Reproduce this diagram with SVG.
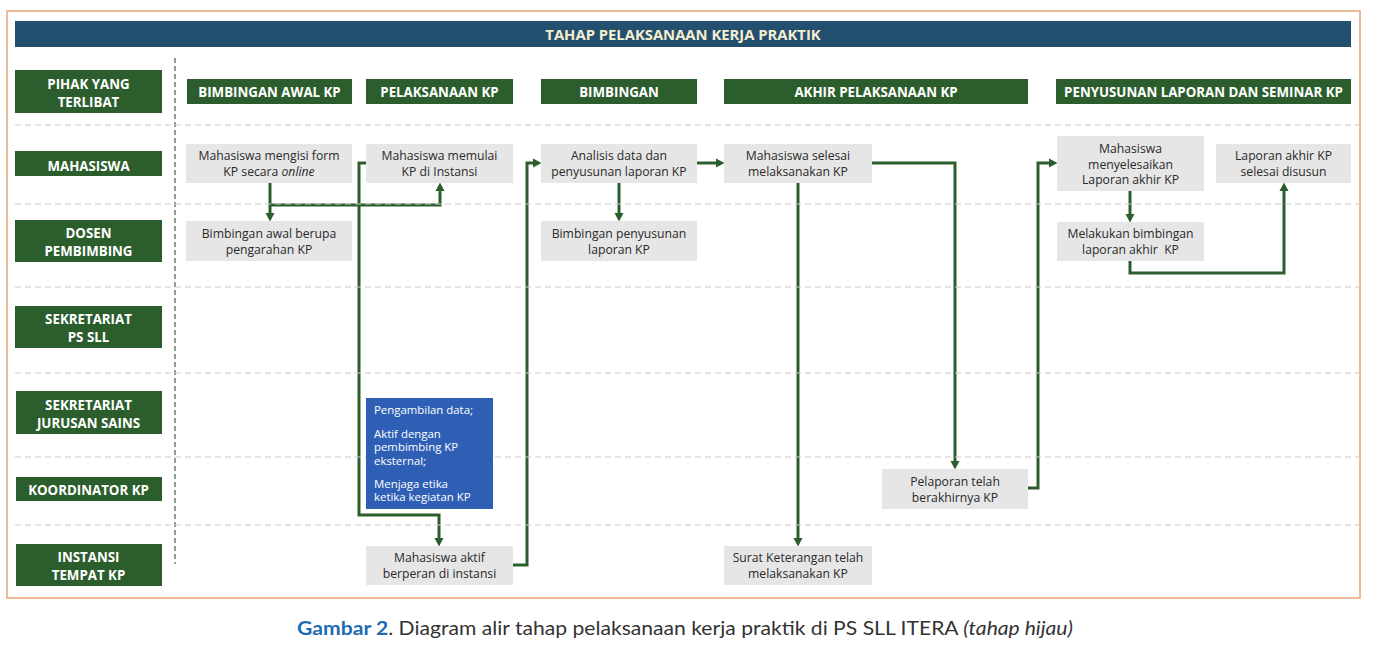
<svg xmlns="http://www.w3.org/2000/svg" width="1374" height="646" viewBox="0 0 1374 646">
<style>
.lbl{fill:#2c5e2d}
.lt{font-family:"Open Sans","DejaVu Sans",sans-serif;font-weight:700;font-size:13.3px;fill:#ffffff;text-anchor:middle}
.box{fill:#e6e6e6}
.bt{font-family:"Open Sans","DejaVu Sans",sans-serif;font-size:12.2px;fill:#2a2a2a;text-anchor:middle}
.grid{stroke:#c9c9c9;stroke-width:1;stroke-dasharray:6 4;fill:none}
.con{stroke:#2c5e2d;stroke-width:3;fill:none;marker-end:url(#ah)}
</style>
<defs>
<marker id="ah" markerUnits="userSpaceOnUse" markerWidth="9" markerHeight="10" refX="3" refY="5" orient="auto">
<path d="M0,0.5 L8.5,5 L0,9.5 z" fill="#2c5e2d"/>
</marker>
</defs>
<rect width="1374" height="646" fill="#ffffff"/>
<rect x="7" y="11" width="1353" height="587" fill="none" stroke="#e9a577" stroke-width="1.5"/>
<g id="title">
<rect x="15" y="21" width="1336" height="26" fill="#23506f"/>
<text x="683" y="40" style="font-family:'Open Sans','DejaVu Sans',sans-serif;font-weight:700;font-size:14.8px;fill:#f6efcf;text-anchor:middle">TAHAP PELAKSANAAN KERJA PRAKTIK</text>
</g>
<line x1="175" y1="58" x2="175" y2="564" stroke="#4d5e4d" stroke-width="1.2" stroke-dasharray="5 3"/>
<g id="lanes">
<g id="lane-pihak"><rect class="lbl" x="15" y="70" width="147" height="43"/><text class="lt" x="88.5" y="88.5">PIHAK YANG</text><text class="lt" x="88.5" y="106.5">TERLIBAT</text></g>
<g id="lane-mahasiswa"><rect class="lbl" x="15" y="151" width="147" height="25"/><text class="lt" x="88.5" y="170.5">MAHASISWA</text></g>
<g id="lane-dosen"><rect class="lbl" x="15" y="220" width="147" height="42"/><text class="lt" x="88.5" y="237.5">DOSEN</text><text class="lt" x="88.5" y="255.5">PEMBIMBING</text></g>
<g id="lane-pssll"><rect class="lbl" x="15" y="306" width="147" height="42"/><text class="lt" x="88.5" y="323.5">SEKRETARIAT</text><text class="lt" x="88.5" y="341.5">PS SLL</text></g>
<g id="lane-jurusan"><rect class="lbl" x="16" y="391" width="146" height="43"/><text class="lt" x="88.5" y="409.5">SEKRETARIAT</text><text class="lt" x="88.5" y="427.5">JURUSAN SAINS</text></g>
<g id="lane-koordinator"><rect class="lbl" x="16" y="477" width="146" height="24"/><text class="lt" x="88.5" y="494.5">KOORDINATOR KP</text></g>
<g id="lane-instansi"><rect class="lbl" x="16" y="544" width="146" height="42"/><text class="lt" x="88.5" y="561.5">INSTANSI</text><text class="lt" x="88.5" y="579.5">TEMPAT KP</text></g>
</g>
<g id="phases">
<g id="ph1"><rect class="lbl" x="187" y="79" width="165" height="25"/><text class="lt" x="269.5" y="96.5">BIMBINGAN AWAL KP</text></g>
<g id="ph2"><rect class="lbl" x="366" y="79" width="147" height="25"/><text class="lt" x="439.5" y="96.5">PELAKSANAAN KP</text></g>
<g id="ph3"><rect class="lbl" x="541" y="79" width="156" height="25"/><text class="lt" x="619" y="96.5">BIMBINGAN</text></g>
<g id="ph4"><rect class="lbl" x="724" y="79" width="304" height="25"/><text class="lt" x="876" y="96.5">AKHIR PELAKSANAAN KP</text></g>
<g id="ph5"><rect class="lbl" x="1056" y="79" width="295" height="25"/><text class="lt" x="1203.5" y="96.5">PENYUSUNAN LAPORAN DAN SEMINAR KP</text></g>
</g>
<g id="connectors">
<path class="con" d="M270,183 V216"/>
<path class="con" d="M270,205 H440 V188"/>
<path class="con" d="M366,163 H359 V515 H439 V541"/>
<path class="con" d="M513,565 H527 V163 H536"/>
<path class="con" d="M619,183 V216"/>
<path class="con" d="M697,163 H719"/>
<path class="con" d="M798,183 V541"/>
<path class="con" d="M872,163 H955 V464"/>
<path class="con" d="M1028,488 H1038 V163 H1052"/>
<path class="con" d="M1130,191 V217"/>
<path class="con" d="M1130,261 V273 H1284 V188"/>
</g>
<g id="grid">
<line class="grid" x1="15" y1="125" x2="1363" y2="125"/>
<line class="grid" x1="15" y1="204" x2="1363" y2="204"/>
<line class="grid" x1="15" y1="287" x2="1363" y2="287"/>
<line class="grid" x1="15" y1="373" x2="1363" y2="373"/>
<line class="grid" x1="15" y1="457" x2="1363" y2="457"/>
<line class="grid" x1="15" y1="525" x2="1363" y2="525"/>
</g>
<g id="n-form"><rect class="box" x="186" y="144" width="166" height="39"/><text class="bt" x="269" y="160">Mahasiswa mengisi form</text><text class="bt" x="269" y="176">KP secara <tspan font-style="italic">online</tspan></text></g>
<g id="n-memulai"><rect class="box" x="366" y="144" width="147" height="39"/><text class="bt" x="439.5" y="160">Mahasiswa memulai</text><text class="bt" x="439.5" y="176">KP di Instansi</text></g>
<g id="n-analisis"><rect class="box" x="541" y="144" width="156" height="39"/><text class="bt" x="619" y="160">Analisis data dan</text><text class="bt" x="619" y="176">penyusunan laporan KP</text></g>
<g id="n-selesai"><rect class="box" x="724" y="144" width="148" height="39"/><text class="bt" x="798" y="160">Mahasiswa selesai</text><text class="bt" x="798" y="176">melaksanakan KP</text></g>
<g id="n-menyelesaikan"><rect class="box" x="1057" y="136" width="147" height="55"/><text class="bt" x="1130.5" y="153">Mahasiswa</text><text class="bt" x="1130.5" y="168.5">menyelesaikan</text><text class="bt" x="1130.5" y="184">Laporan akhir KP</text></g>
<g id="n-laporan"><rect class="box" x="1216" y="144" width="135" height="39"/><text class="bt" x="1283.5" y="160">Laporan akhir KP</text><text class="bt" x="1283.5" y="176">selesai disusun</text></g>
<g id="n-bimawal"><rect class="box" x="186" y="221" width="166" height="40"/><text class="bt" x="269" y="237.5">Bimbingan awal berupa</text><text class="bt" x="269" y="253.5">pengarahan KP</text></g>
<g id="n-bimpenyusunan"><rect class="box" x="541" y="221" width="156" height="40"/><text class="bt" x="619" y="237.5">Bimbingan penyusunan</text><text class="bt" x="619" y="253.5">laporan KP</text></g>
<g id="n-melakukan"><rect class="box" x="1057" y="222" width="147" height="39"/><text class="bt" x="1130.5" y="238">Melakukan bimbingan</text><text class="bt" x="1130.5" y="254" xml:space="preserve">laporan akhir  KP</text></g>
<g id="n-blue"><rect x="366" y="398" width="127" height="111" fill="#2f5fb5"/>
<g style="font-family:'Open Sans','DejaVu Sans',sans-serif;font-size:11.4px;fill:#ffffff">
<text x="374" y="414">Pengambilan data;</text>
<text x="374" y="438">Aktif dengan</text>
<text x="374" y="451.3">pembimbing KP</text>
<text x="374" y="464.6">eksternal;</text>
<text x="374" y="488">Menjaga etika</text>
<text x="374" y="501.3">ketika kegiatan KP</text>
</g></g>
<g id="n-aktif"><rect class="box" x="366" y="546" width="147" height="39"/><text class="bt" x="439.5" y="562">Mahasiswa aktif</text><text class="bt" x="439.5" y="578">berperan di instansi</text></g>
<g id="n-surat"><rect class="box" x="724" y="546" width="148" height="39"/><text class="bt" x="798" y="562">Surat Keterangan telah</text><text class="bt" x="798" y="578">melaksanakan KP</text></g>
<g id="n-pelaporan"><rect class="box" x="882" y="469" width="146" height="40"/><text class="bt" x="955" y="485.5">Pelaporan telah</text><text class="bt" x="955" y="501.5">berakhirnya KP</text></g>
<text x="297" y="635" textLength="776" lengthAdjust="spacingAndGlyphs" style="font-family:Lato,'Open Sans',sans-serif;font-size:19px;fill:#333333"><tspan font-weight="700" fill="#1d6bb3">Gambar 2</tspan>. Diagram alir tahap pelaksanaan kerja praktik di PS SLL ITERA <tspan font-style="italic">(tahap hijau)</tspan></text>
</svg>
